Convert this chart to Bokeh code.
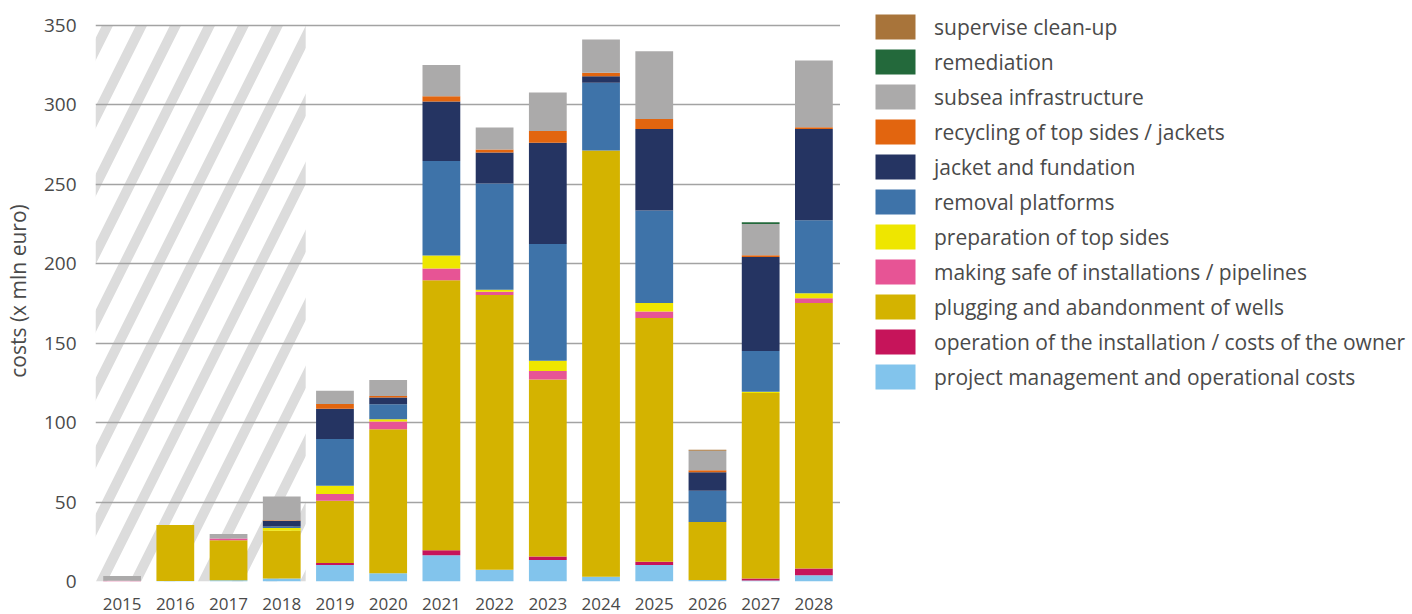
from bokeh.plotting import figure
from bokeh.layouts import row
from bokeh.models import ColumnDataSource, Legend, LegendItem, FixedTicker
from bokeh.embed import file_html
from bokeh.resources import INLINE

years = [2015, 2016, 2017, 2018, 2019, 2020, 2021, 2022, 2023, 2024, 2025, 2026, 2027, 2028]
year_labels = [str(y) for y in years]

# historical (hatched) period
hatched_first = 2015
hatched_last = 2018

# stack order, bottom to top
project_management = [0, 0.3, 0.8, 1.9, 10.4, 5.2, 16.5, 7.4, 13.6, 3.0, 10.4, 1.0, 0.7, 4.0]
operation_owner = [0, 0, 0, 0, 1.2, 0, 3.2, 0, 2.2, 0, 2.0, 0, 1.2, 4.2]
plugging_wells = [0, 35.3, 25.2, 30.0, 39.3, 90.6, 170.0, 173.0, 111.3, 268.3, 153.5, 36.5, 116.8, 167.1]
making_safe = [0.4, 0, 1.0, 0, 4.2, 4.9, 7.4, 2.0, 5.4, 0, 4.0, 0, 0, 3.0]
preparation_top_sides = [0, 0, 0, 1.7, 5.2, 1.5, 8.1, 1.2, 6.4, 0, 5.4, 0, 0.7, 3.2]
removal_platforms = [0, 0, 0, 1.0, 29.4, 9.4, 59.5, 66.9, 73.6, 42.7, 58.3, 19.7, 25.7, 45.9]
jacket_fundation = [0, 0, 0, 3.6, 19.0, 4.2, 37.5, 19.5, 63.7, 4.0, 51.3, 11.6, 59.2, 57.5]
recycling = [0, 0, 0, 0.3, 3.0, 1.0, 3.2, 2.0, 7.4, 2.2, 6.2, 1.2, 1.0, 1.0]
subsea_infrastructure = [3.1, 0, 2.9, 15.0, 8.4, 10.1, 19.7, 13.8, 24.2, 21.0, 42.7, 12.3, 19.7, 42.0]
remediation = [0, 0, 0, 0, 0, 0, 0, 0, 0, 0, 0, 0, 1.2, 0]
supervise_clean_up = [0, 0, 0, 0, 0, 0, 0, 0, 0, 0, 0, 0.6, 0, 0]

y_ticks = [0, 50, 100, 150, 200, 250, 300, 350]
y_top = 350

series_keys = ["pm", "op", "plug", "safe", "prep", "removal", "jacket", "recyc", "subsea", "remed", "superv"]
series_names = [
    "project management and operational costs",
    "operation of the installation / costs of the owner",
    "plugging and abandonment of wells",
    "making safe of installations / pipelines",
    "preparation of top sides",
    "removal platforms",
    "jacket and fundation",
    "recycling of top sides / jackets",
    "subsea infrastructure",
    "remediation",
    "supervise clean-up",
]
series_colors = [
    "#82c4ec", "#c6145a", "#d4b300", "#e75495", "#eee600", "#3e73a9",
    "#253462", "#e2650f", "#abaaaa", "#23693b", "#a8743a",
]

data = dict(year=years,
            pm=project_management, op=operation_owner, plug=plugging_wells,
            safe=making_safe, prep=preparation_top_sides, removal=removal_platforms,
            jacket=jacket_fundation, recyc=recycling, subsea=subsea_infrastructure,
            remed=remediation, superv=supervise_clean_up)
source = ColumnDataSource(data)

FONT = "Open Sans"
TXT = "#4a4a4a"

# ---------------- main chart ----------------
# frame runs to the top of the page; the top gridline (350) sits 25 px below it
p = figure(width=840, height=614, output_backend="svg", toolbar_location=None,
           x_range=(years[0] - 0.5, years[-1] + 0.5), y_range=(0, y_top * 581 / 556),
           min_border_left=93, min_border_right=0, min_border_top=0, min_border_bottom=33)
p.outline_line_color = None
p.background_fill_color = "white"

# hatched historical band
p.quad(left=[hatched_first - 0.5], right=[hatched_last + 0.45], bottom=[0], top=[y_top],
       fill_color=None, line_color=None, hatch_pattern="/", hatch_color="#dcdcdc",
       hatch_weight=10, hatch_scale=68, level="underlay")

p.vbar_stack(series_keys, x="year", width=0.71, source=source,
             color=series_colors, line_color=None)

p.xaxis.ticker = FixedTicker(ticks=years)
p.xaxis.major_label_overrides = {y: l for y, l in zip(years, year_labels)}
p.yaxis.ticker = FixedTicker(ticks=y_ticks)
p.ygrid.ticker = FixedTicker(ticks=y_ticks[1:])
p.xgrid.grid_line_color = None
p.ygrid.grid_line_color = "#a3a3a3"
p.ygrid.grid_line_width = 1.5

for ax in (p.xaxis, p.yaxis):
    ax.axis_line_color = None
    ax.major_tick_line_color = None
    ax.minor_tick_line_color = None
    ax.major_label_text_font = FONT
    ax.major_label_text_color = TXT

p.xaxis.major_label_text_font_size = "17px"
p.xaxis.major_label_standoff = 10
p.yaxis.major_label_text_font_size = "19px"
p.yaxis.major_label_standoff = 13
p.yaxis.axis_label = "costs (x mln euro)"
p.yaxis.axis_label_text_font = FONT
p.yaxis.axis_label_text_font_style = "normal"
p.yaxis.axis_label_text_font_size = "21px"
p.yaxis.axis_label_text_color = TXT
p.yaxis.axis_label_standoff = 9

# ---------------- legend panel ----------------
pl = figure(width=572, height=614, output_backend="svg", toolbar_location=None,
            x_range=p.x_range, y_range=p.y_range, min_border=0,
            x_axis_location=None, y_axis_location=None)
pl.outline_line_color = None
pl.grid.grid_line_color = None
leg_renderers = pl.vbar_stack(series_keys, x="year", width=0.71, source=source,
                              color=series_colors, line_color=None)
for r in leg_renderers:
    r.visible = False

items = [LegendItem(label=series_names[i], renderers=[leg_renderers[i]])
         for i in reversed(range(len(series_keys)))]
legend = Legend(items=items, location=(30, 189), glyph_width=50, glyph_height=31,
                label_height=25, spacing=4, padding=0, margin=0, label_standoff=14,
                label_text_font=FONT, label_text_font_size="21px", label_text_color=TXT,
                border_line_color=None, background_fill_alpha=0)
pl.add_layout(legend, "center")

layout = row(p, pl)
open("out.html", "w").write(file_html(layout, INLINE))
